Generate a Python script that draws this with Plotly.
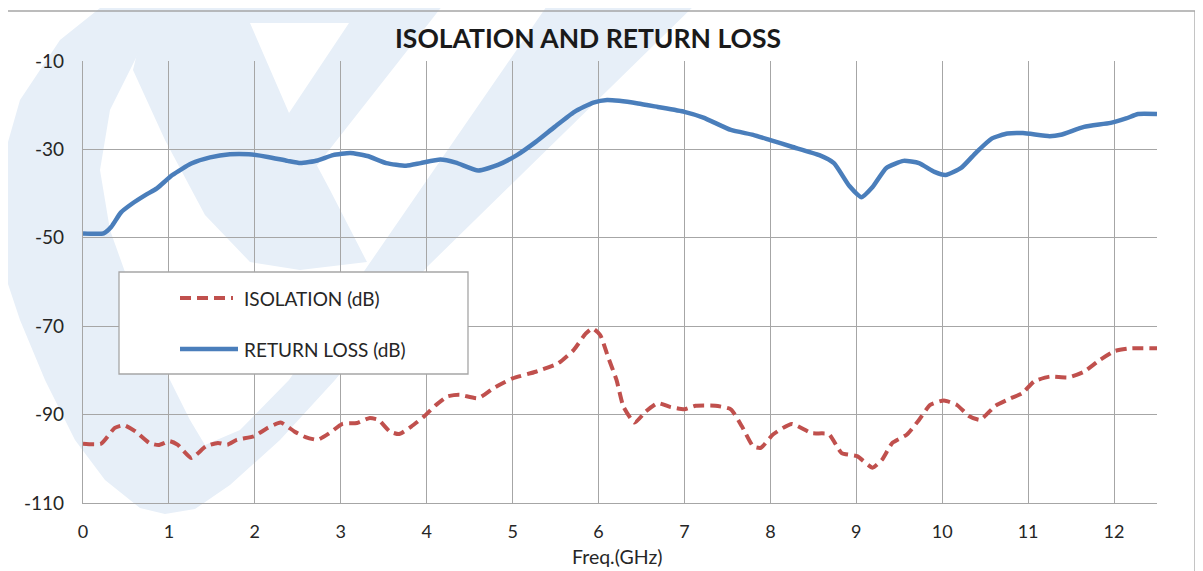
import plotly.graph_objects as go

# ---------------- data ----------------
freq_rl = [0.00, 0.24, 0.33, 0.44, 0.57, 0.73, 0.86, 1.04, 1.26, 1.48, 1.71, 1.93,
           2.15, 2.38, 2.53, 2.73, 2.91, 3.11, 3.31, 3.53, 3.76, 3.93, 4.16, 4.34,
           4.60, 4.83, 5.05, 5.27, 5.49, 5.72, 5.94, 6.10, 6.24, 6.46, 6.69, 7.00,
           7.22, 7.54, 7.80, 8.00, 8.25, 8.57, 8.74, 8.92, 9.06, 9.19, 9.35, 9.55,
           9.73, 9.91, 10.04, 10.22, 10.40, 10.58, 10.76, 10.94, 11.25, 11.38,
           11.65, 11.96, 12.14, 12.28, 12.50]
return_loss = [-49.0, -49.0, -47.5, -44.3, -42.3, -40.3, -38.8, -35.8, -33.2, -31.8,
               -31.1, -31.1, -31.7, -32.6, -33.1, -32.5, -31.3, -30.8, -31.5, -33.1,
               -33.7, -33.1, -32.3, -33.0, -34.8, -33.5, -31.3, -28.3, -24.9, -21.5,
               -19.4, -18.8, -19.0, -19.6, -20.4, -21.5, -22.8, -25.6, -26.7, -27.9,
               -29.4, -31.3, -33.1, -38.3, -40.8, -38.5, -34.2, -32.6, -33.1, -35.1,
               -35.8, -34.2, -30.6, -27.5, -26.4, -26.3, -27.0, -26.7, -24.9, -24.0,
               -23.0, -22.0, -22.0]

freq_iso = [0.00, 0.21, 0.37, 0.48, 0.61, 0.77, 0.88, 1.01, 1.10, 1.26, 1.43, 1.57,
            1.68, 1.79, 1.99, 2.15, 2.30, 2.46, 2.59, 2.73, 2.86, 3.02, 3.19, 3.33,
            3.44, 3.57, 3.68, 3.82, 3.97, 4.11, 4.24, 4.38, 4.60, 4.78, 5.00, 5.27,
            5.53, 5.71, 5.85, 5.93, 6.02, 6.11, 6.21, 6.29, 6.42, 6.55, 6.69, 6.84,
            7.00, 7.13, 7.36, 7.54, 7.67, 7.80, 7.89, 8.03, 8.25, 8.48, 8.68, 8.83,
            9.01, 9.19, 9.30, 9.42, 9.59, 9.73, 9.86, 10.02, 10.17, 10.31, 10.44,
            10.62, 10.80, 10.93, 11.07, 11.25, 11.47, 11.65, 11.83, 12.01, 12.19, 12.50]
isolation = [-96.6, -96.6, -93.0, -92.4, -93.8, -96.4, -96.9, -96.0, -96.8, -99.8,
             -97.2, -96.4, -96.8, -95.7, -94.9, -93.0, -91.8, -93.8, -95.1, -95.7,
             -94.3, -92.1, -91.9, -90.8, -91.2, -93.8, -94.4, -92.7, -90.4, -87.8,
             -85.9, -85.5, -86.3, -84.0, -81.8, -80.3, -78.4, -75.4, -71.7, -70.5,
             -72.0, -76.9, -82.2, -88.2, -91.8, -89.3, -87.4, -88.3, -88.8, -88.0,
             -88.0, -88.8, -92.7, -97.2, -97.5, -94.5, -92.1, -94.2, -94.4, -98.7,
             -99.4, -102.0, -100.2, -96.4, -94.5, -91.2, -87.8, -86.8, -87.8, -90.3,
             -91.2, -88.0, -86.3, -85.2, -82.5, -81.4, -81.6, -80.3, -77.7, -75.6,
             -75.0, -75.0]

x_ticks = list(range(0, 13))
y_ticks = [-10, -30, -50, -70, -90, -110]
series_names = ["ISOLATION (dB)", "RETURN LOSS (dB)"]
title_text = "ISOLATION AND RETURN LOSS"
x_title = "Freq.(GHz)"

# ---------------- layout geometry ----------------
# page body has an 8px margin, so the figure is drawn 8px smaller and all
# positions below are given in screen pixels and shifted by OFF.
OFF = 8
W, H = 1203 - OFF, 571 - OFF
PL, PR, PT, PB = 83, 1157, 61, 503          # plot area on screen
FONT = "Lato"
GRID = "#a6a6a6"
TXT = "#262626"
RED = "#c0504d"
BLUE = "#4a7ebb"
WM = "#e7eff8"


def pp(x, y):
    """screen pixel -> paper coordinates"""
    return (x - PL) / (PR - PL), (PB - y) / (PB - PT)


def poly_path(pts):
    s = []
    for i, (x, y) in enumerate(pts):
        a, b = pp(x, y)
        s.append(("M" if i == 0 else "L") + f"{a:.5f},{b:.5f}")
    return " ".join(s) + " Z"


fig = go.Figure()
fig.add_trace(go.Scatter(x=freq_iso, y=isolation, mode="lines", name=series_names[0],
                         line=dict(color=RED, width=4, dash="11px,6px",
                                   shape="spline", smoothing=0.5),
                         showlegend=False))
fig.add_trace(go.Scatter(x=freq_rl, y=return_loss, mode="lines", name=series_names[1],
                         line=dict(color=BLUE, width=4.5, shape="spline", smoothing=0.5),
                         showlegend=False))

shapes = []
# faint background logo (watermark), screen pixel outlines
watermark = [
    # outer "(" stroke + V bottom + long diagonal band
    [(110, 0), (60, 40), (20, 100), (0, 170), (0, 260), (20, 320), (45, 380), (75, 440),
     (105, 480), (140, 508), (165, 514), (195, 509), (230, 485), (280, 440), (335, 380),
     (427, 267), (700, 0), (551, 0), (367, 267), (289, 380), (240, 430), (205, 445),
     (190, 420), (160, 360), (135, 300), (110, 230), (100, 170), (110, 110), (140, 50),
     (179, 0)],
    # inner "\" stroke
    [(150, 0), (250, 0), (250, 23), (289, 113), (330, 190), (367, 262), (300, 270),
     (250, 262), (205, 215), (165, 140), (133, 70)],
    # bowl at the top
    [(248, 0), (447, 0), (300, 187), (289, 113), (349, 23), (248, 23)],
]
for pts in watermark:
    shapes.append(dict(type="path", xref="paper", yref="paper", path=poly_path(pts),
                       fillcolor=WM, line=dict(width=0), layer="below"))

# outer chart frame
x0, y0 = pp(7, 11)
x1, y1 = pp(1195, 600)
shapes.append(dict(type="rect", xref="paper", yref="paper", x0=x0, y0=y1, x1=x1, y1=y0,
                   line=dict(color=GRID, width=1.3), fillcolor="rgba(0,0,0,0)", layer="below"))

# legend box
lx0, ly0 = pp(119, 272)
lx1, ly1 = pp(468, 374)
shapes.append(dict(type="rect", xref="paper", yref="paper", x0=lx0, y0=ly1, x1=lx1, y1=ly0,
                   line=dict(color=GRID, width=1.3), fillcolor="white", layer="above"))
ax0, ay = pp(180, 298)
ax1, _ = pp(233, 298)
shapes.append(dict(type="line", xref="paper", yref="paper", x0=ax0, x1=ax1, y0=ay, y1=ay,
                   line=dict(color=RED, width=4, dash="11px,6px"), layer="above"))
bx0, by = pp(180, 349)
bx1, _ = pp(238, 349)
shapes.append(dict(type="line", xref="paper", yref="paper", x0=bx0, x1=bx1, y0=by, y1=by,
                   line=dict(color=BLUE, width=4.5), layer="above"))

annotations = []
tx, ty = pp(242, 298)
annotations.append(dict(x=tx, y=ty, xref="paper", yref="paper", text=series_names[0],
                        showarrow=False, xanchor="left", yanchor="middle",
                        font=dict(family=FONT, size=19, color=TXT)))
tx, ty = pp(242, 349)
annotations.append(dict(x=tx, y=ty, xref="paper", yref="paper", text=series_names[1],
                        showarrow=False, xanchor="left", yanchor="middle",
                        font=dict(family=FONT, size=19, color=TXT)))
tx, ty = pp(588, 38)
annotations.append(dict(x=tx, y=ty, xref="paper", yref="paper", text="<b>" + title_text + "</b>",
                        showarrow=False, xanchor="center", yanchor="middle",
                        font=dict(family=FONT, size=26.5, color="#1a1a1a")))
tx, ty = pp(617, 556)
annotations.append(dict(x=tx, y=ty, xref="paper", yref="paper", text=x_title,
                        showarrow=False, xanchor="center", yanchor="middle",
                        font=dict(family=FONT, size=19.5, color=TXT)))

fig.update_layout(
    width=W, height=H,
    margin=dict(l=PL - OFF, r=(1203 - PR), t=PT - OFF, b=(571 - PB), pad=0),
    paper_bgcolor="white", plot_bgcolor="rgba(0,0,0,0)",
    shapes=shapes, annotations=annotations, showlegend=False,
    xaxis=dict(range=[0, 12.5], tickvals=x_ticks, ticktext=[str(v) for v in x_ticks],
               showgrid=True, gridcolor=GRID, gridwidth=1.3, zeroline=False,
               showline=True, linecolor=GRID, linewidth=1.3, ticks="",
               ticklabelstandoff=12,
               tickfont=dict(family=FONT, size=18, color=TXT)),
    yaxis=dict(range=[-110, -10], tickvals=y_ticks, ticktext=[str(v) for v in y_ticks],
               showgrid=True, gridcolor=GRID, gridwidth=1.3, zeroline=False,
               showline=True, linecolor=GRID, linewidth=1.3, ticks="",
               ticklabelstandoff=14,
               tickfont=dict(family=FONT, size=19, color=TXT)),
)

fig.write_html("out.html")
